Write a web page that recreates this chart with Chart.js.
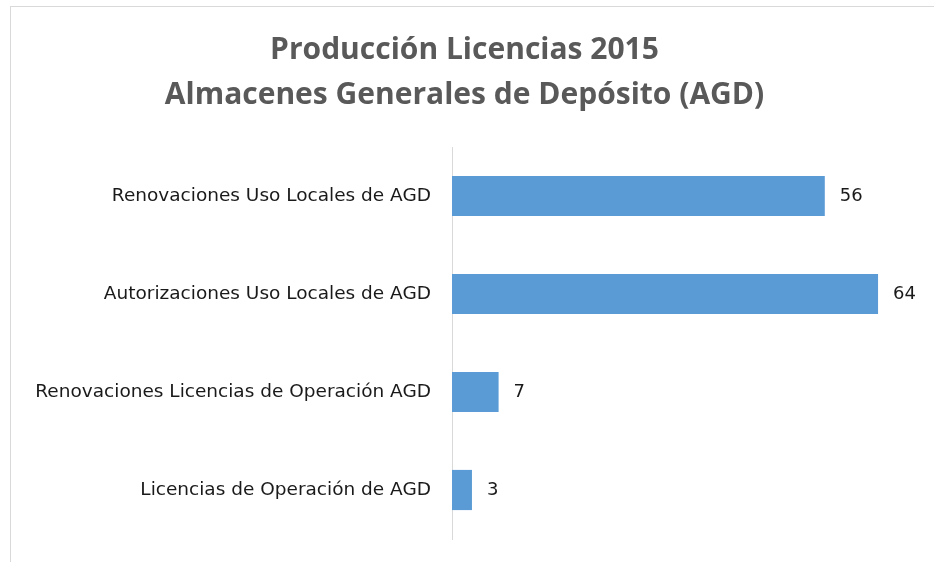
<!DOCTYPE html>
<html>
<head>
<meta charset="utf-8">
<script src="https://cdn.jsdelivr.net/npm/chart.js@4"></script>
<style>
  body { margin: 0; background: #fff; }
  #box {
    position: absolute; left: 10px; top: 6px;
    width: 940px; height: 570px;
    border: 1px solid #d9d9d9; background: #fff;
  }
</style>
</head>
<body>
<div id="box"><canvas id="myChart" width="923" height="555"></canvas></div>
<script>
const categories = [
  "Renovaciones Uso Locales de AGD",
  "Autorizaciones Uso Locales de AGD",
  "Renovaciones Licencias de Operación AGD",
  "Licencias de Operación de AGD",
];
const values = [56, 64, 7, 3];
const titleLines = ["Producción Licencias 2015", "Almacenes Generales de Depósito (AGD)"];

// draws the number next to each bar
const valueLabels = {
  id: "valueLabels",
  afterDatasetsDraw(chart) {
    const ctx = chart.ctx;
    const meta = chart.getDatasetMeta(0);
    ctx.save();
    ctx.font = "18px 'DejaVu Sans'";
    ctx.fillStyle = "#1a1a1a";
    ctx.textBaseline = "middle";
    ctx.textAlign = "left";
    meta.data.forEach((bar, i) => {
      ctx.fillText(values[i], bar.x + 15, bar.y);
    });
    ctx.restore();
  },
};

const ctx = document.getElementById("myChart");

new Chart(ctx, {
  type: "bar",
  data: {
    labels: categories,
    datasets: [
      {
        data: values,
        backgroundColor: "#5b9bd5",
        borderWidth: 0,
        categoryPercentage: 1,
        barPercentage: 0.41,
      },
    ],
  },
  plugins: [valueLabels],
  options: {
    indexAxis: "y",
    responsive: false,
    animation: false,
    layout: {
      padding: { top: 0, right: 16, bottom: 23, left: 0 },
    },
    plugins: {
      legend: false,
      tooltip: { enabled: false },
      title: {
        display: true,
        text: titleLines,
        color: "#595959",
        font: { family: "'Open Sans'", size: 30, weight: "bold", lineHeight: 1.5 },
        padding: { top: 21, bottom: 29 },
      },
    },
    scales: {
      x: {
        display: false,
        min: 0,
        max: 70,
      },
      y: {
        grid: { display: false, drawTicks: false },
        border: { display: true, color: "#d9d9d9", width: 1 },
        ticks: {
          color: "#1a1a1a",
          padding: 21,
          font: { family: "'DejaVu Sans'", size: 18.5 },
        },
        afterFit: (scale) => {
          scale.width = 441;
          scale.paddingTop = 0;
          scale.paddingBottom = 0;
        },
      },
    },
  },
});
</script>
</body>
</html>
